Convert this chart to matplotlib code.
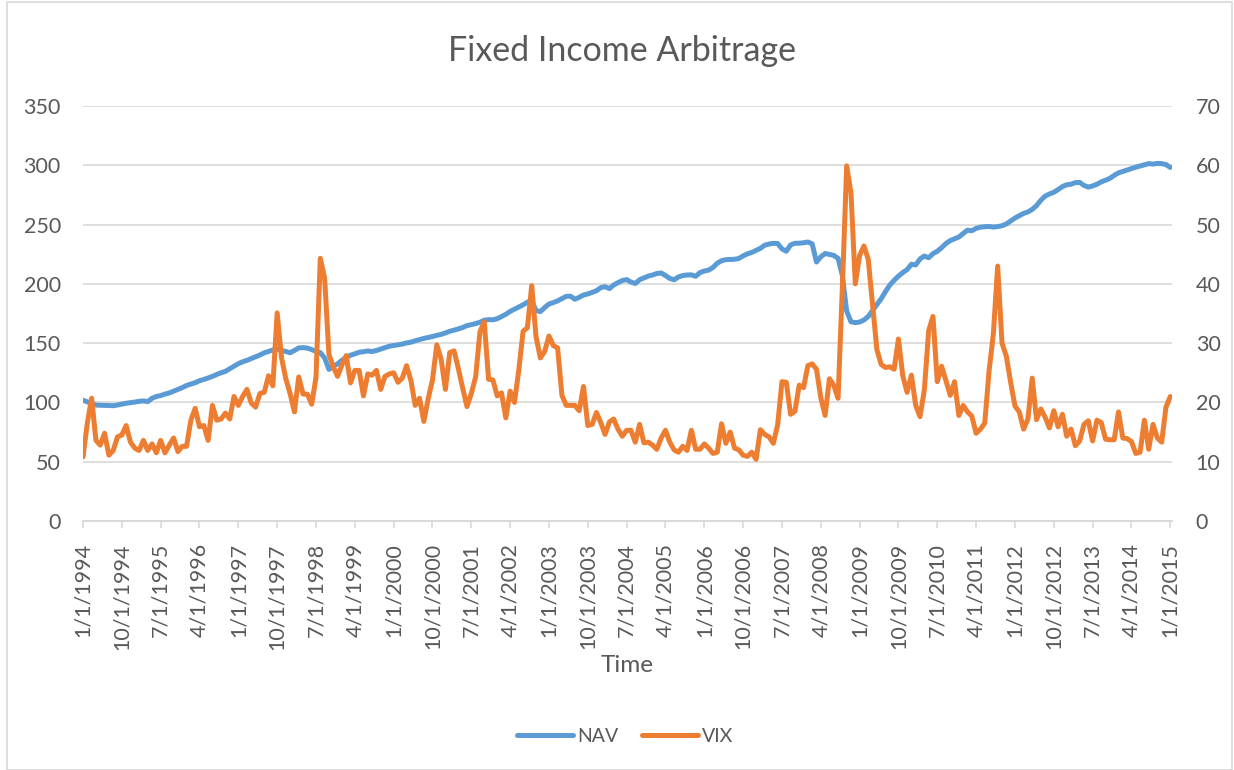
import matplotlib
matplotlib.use('Agg')
from matplotlib import pyplot as plt
from matplotlib.patches import Rectangle
import pandas as pd

plt.rcParams['font.family'] = ['Lato', 'DejaVu Sans']

# datas mensais
datas = pd.date_range('1994-01-01', '2015-01-01', freq='MS')

# NAV (eixo esquerdo)
nav = [
    101.8, 100.5, 99.0, 97.8, 97.6, 97.5, 97.4, 97.2, 97.8, 98.6, 99.3, 99.8,
    100.3, 100.9, 101.3, 100.7, 103.5, 105.0, 105.8, 107.0, 108.0, 109.5, 111.0, 112.5,
    114.3, 115.5, 116.6, 118.3, 119.4, 120.6, 122.0, 123.6, 125.0, 126.2, 128.4, 130.5,
    132.7, 134.3, 135.5, 137.0, 138.6, 140.0, 141.8, 143.0, 144.2, 145.0, 143.8, 143.0,
    141.9, 143.8, 146.0, 146.2, 145.8, 144.6, 143.0, 142.0, 137.5, 127.8, 130.5, 132.5,
    135.5, 137.6, 139.8, 141.0, 142.3, 142.8, 143.4, 142.9, 143.8, 145.0, 146.2, 147.4,
    148.0, 148.6, 149.2, 150.2, 150.8, 152.0, 153.0, 154.0, 154.8, 155.6, 156.6, 157.4,
    158.6, 160.0, 161.0, 162.0, 163.2, 164.8, 165.6, 166.5, 167.6, 169.3, 169.8, 169.7,
    170.6, 172.5, 174.3, 176.8, 178.6, 180.4, 182.3, 184.5, 186.0, 177.5, 176.6, 180.0,
    183.0, 184.2, 185.6, 187.6, 189.5, 189.6, 187.0, 188.6, 190.6, 191.5, 192.8, 194.2,
    196.8, 197.6, 196.0, 199.0, 201.0, 202.8, 203.6, 201.5, 200.3, 203.5, 205.0, 206.5,
    207.5, 208.7, 209.2, 207.0, 204.6, 203.4, 205.8, 207.0, 207.5, 207.6, 206.4, 209.5,
    210.8, 211.6, 213.8, 217.4, 219.5, 220.4, 220.6, 220.7, 221.4, 223.6, 225.3, 226.5,
    228.3, 230.0, 232.6, 233.6, 234.2, 234.0, 229.5, 227.5, 232.8, 234.2, 234.3, 234.6,
    235.3, 233.8, 218.4, 222.8, 225.6, 224.8, 224.0, 221.5, 207.0, 177.0, 168.0, 167.3,
    167.8, 169.5, 172.5, 177.5, 182.5, 187.5, 193.5, 199.0, 203.0, 206.5, 209.5, 212.0,
    216.5, 216.0, 221.0, 223.5, 222.0, 225.5, 227.5, 230.5, 234.0, 236.5, 238.0, 239.5,
    242.5, 245.2, 244.8, 246.8, 247.8, 248.2, 248.4, 247.9, 248.3, 249.0, 250.5, 253.0,
    255.5, 257.5, 259.4, 260.6, 262.8, 266.0, 270.5, 274.0, 275.8, 277.2, 279.5, 282.0,
    283.6, 284.0, 285.4, 285.6, 283.0, 281.6, 282.6, 284.0, 286.0, 287.4, 289.0, 291.5,
    293.6, 294.8, 296.0, 297.2, 298.4, 299.4, 300.4, 301.4, 301.0, 301.6, 301.4, 300.6,
    298.2,
]

# VIX (eixo direito)
vix = [
    10.8, 16.5, 20.7, 13.6, 12.8, 14.8, 11.1, 11.9, 14.2, 14.5, 16.1, 13.3,
    12.3, 11.9, 13.6, 11.9, 13.0, 11.5, 13.6, 11.5, 12.8, 14.0, 11.7, 12.6,
    12.6, 17.0, 19.0, 15.9, 16.1, 13.6, 19.5, 17.0, 17.2, 18.2, 17.2, 21.0,
    19.5, 21.0, 22.2, 19.9, 19.2, 21.5, 21.7, 24.5, 22.8, 35.1, 27.6, 24.0,
    21.5, 18.4, 24.3, 21.4, 21.4, 19.7, 24.2, 44.3, 41.0, 28.1, 26.0, 24.4,
    26.3, 27.9, 23.3, 25.4, 25.4, 21.1, 24.8, 24.6, 25.4, 22.2, 24.4, 24.8,
    25.0, 23.4, 24.1, 26.2, 23.7, 19.5, 20.7, 16.8, 20.6, 23.8, 29.7, 27.3,
    22.2, 28.4, 28.7, 25.7, 22.4, 19.3, 21.5, 24.3, 31.9, 33.6, 23.9, 23.8,
    21.1, 21.6, 17.4, 21.9, 20.0, 25.4, 32.0, 32.6, 39.7, 31.1, 27.5, 28.6,
    31.2, 29.6, 29.2, 21.2, 19.5, 19.5, 19.5, 18.6, 22.7, 16.1, 16.3, 18.3,
    16.6, 14.6, 16.7, 17.2, 15.5, 14.3, 15.3, 15.3, 13.3, 16.3, 13.2, 13.3,
    12.8, 12.1, 14.0, 15.3, 13.3, 12.0, 11.6, 12.6, 11.9, 15.3, 12.1, 12.1,
    13.0, 12.3, 11.4, 11.6, 16.4, 13.1, 15.0, 12.3, 12.0, 11.1, 10.9, 11.6,
    10.4, 15.4, 14.6, 14.2, 13.1, 16.2, 23.5, 23.4, 18.0, 18.5, 22.9, 22.5,
    26.2, 26.5, 25.6, 20.8, 17.8, 24.0, 22.9, 20.7, 39.4, 59.9, 55.3, 40.0,
    44.8, 46.4, 44.1, 36.5, 28.9, 26.4, 25.9, 26.0, 25.6, 30.7, 24.5, 21.7,
    24.6, 19.5, 17.6, 22.1, 32.1, 34.5, 23.5, 26.1, 23.7, 21.2, 23.5, 17.8,
    19.5, 18.4, 17.7, 14.8, 15.5, 16.5, 25.3, 31.6, 43.0, 30.0, 27.8, 23.4,
    19.4, 18.4, 15.5, 17.2, 24.1, 17.1, 18.9, 17.5, 15.7, 18.6, 15.9, 18.0,
    14.3, 15.5, 12.7, 13.5, 16.3, 16.9, 13.5, 17.0, 16.6, 13.8, 13.7, 13.7,
    18.4, 14.0, 13.9, 13.4, 11.4, 11.6, 17.0, 12.1, 16.3, 14.0, 13.3, 19.2,
    21.0,
]

azul = '#5B9BD5'
laranja = '#ED7D31'
cinza = '#595959'
grade = '#D9D9D9'

x = list(range(len(datas)))
pos_ticks = x[::9]
rotulos = [f'{d.month}/1/{d.year}' for d in datas[::9]]

fig = plt.figure(figsize=(12.34, 7.7), dpi=100)
ax = fig.add_axes([83 / 1234, 1 - 521 / 770, (1172 - 83) / 1234, (521 - 106) / 770])
ax2 = ax.twinx()

linha_nav, = ax.plot(x, nav, color=azul, lw=3.6, solid_capstyle='round', solid_joinstyle='round', label='NAV')
linha_vix, = ax2.plot(x, vix, color=laranja, lw=3.6, solid_capstyle='round', solid_joinstyle='round', label='VIX')

ax.set_xlim(0, 252.4)
ax.set_ylim(0, 350)
ax2.set_ylim(0, 70)
ax.set_yticks(range(0, 351, 50))
ax2.set_yticks(range(0, 71, 10))
ax.set_xticks(pos_ticks)
ax.set_xticklabels(rotulos, rotation=90)

ax.grid(axis='y', color=grade, lw=1.2)
ax.set_axisbelow(True)
for a in (ax, ax2):
    for lado in ('top', 'left', 'right'):
        a.spines[lado].set_visible(False)
    a.spines['bottom'].set_color(grade)
    a.spines['bottom'].set_linewidth(1.2)
ax.tick_params(axis='y', length=0, pad=16, labelsize=15.5, labelcolor=cinza)
ax2.tick_params(axis='y', length=0, pad=17, labelsize=15.5, labelcolor=cinza)
ax.tick_params(axis='x', length=5, width=1.2, color=grade, pad=11, labelsize=15.5, labelcolor=cinza)

ax.set_xlabel('Time', fontsize=17.5, color=cinza, labelpad=4)
fig.text(622 / 1234, 1 - 51 / 770, 'Fixed Income Arbitrage', ha='center', va='center', fontsize=24.5, color=cinza)

fig.legend(handles=[linha_nav, linha_vix], loc='center', bbox_to_anchor=(625 / 1234, 1 - 736 / 770),
           ncol=2, frameon=False, fontsize=14, labelcolor=cinza, handlelength=2.9,
           handletextpad=0.2, columnspacing=1.2)

# borda do grafico
fig.patches.append(Rectangle((6.5 / 1234, 0.5 / 770), 1225 / 1234, 768 / 770, transform=fig.transFigure,
                             fill=False, edgecolor=grade, lw=1.2))

plt.savefig('out.png', dpi=100)
plt.close()
